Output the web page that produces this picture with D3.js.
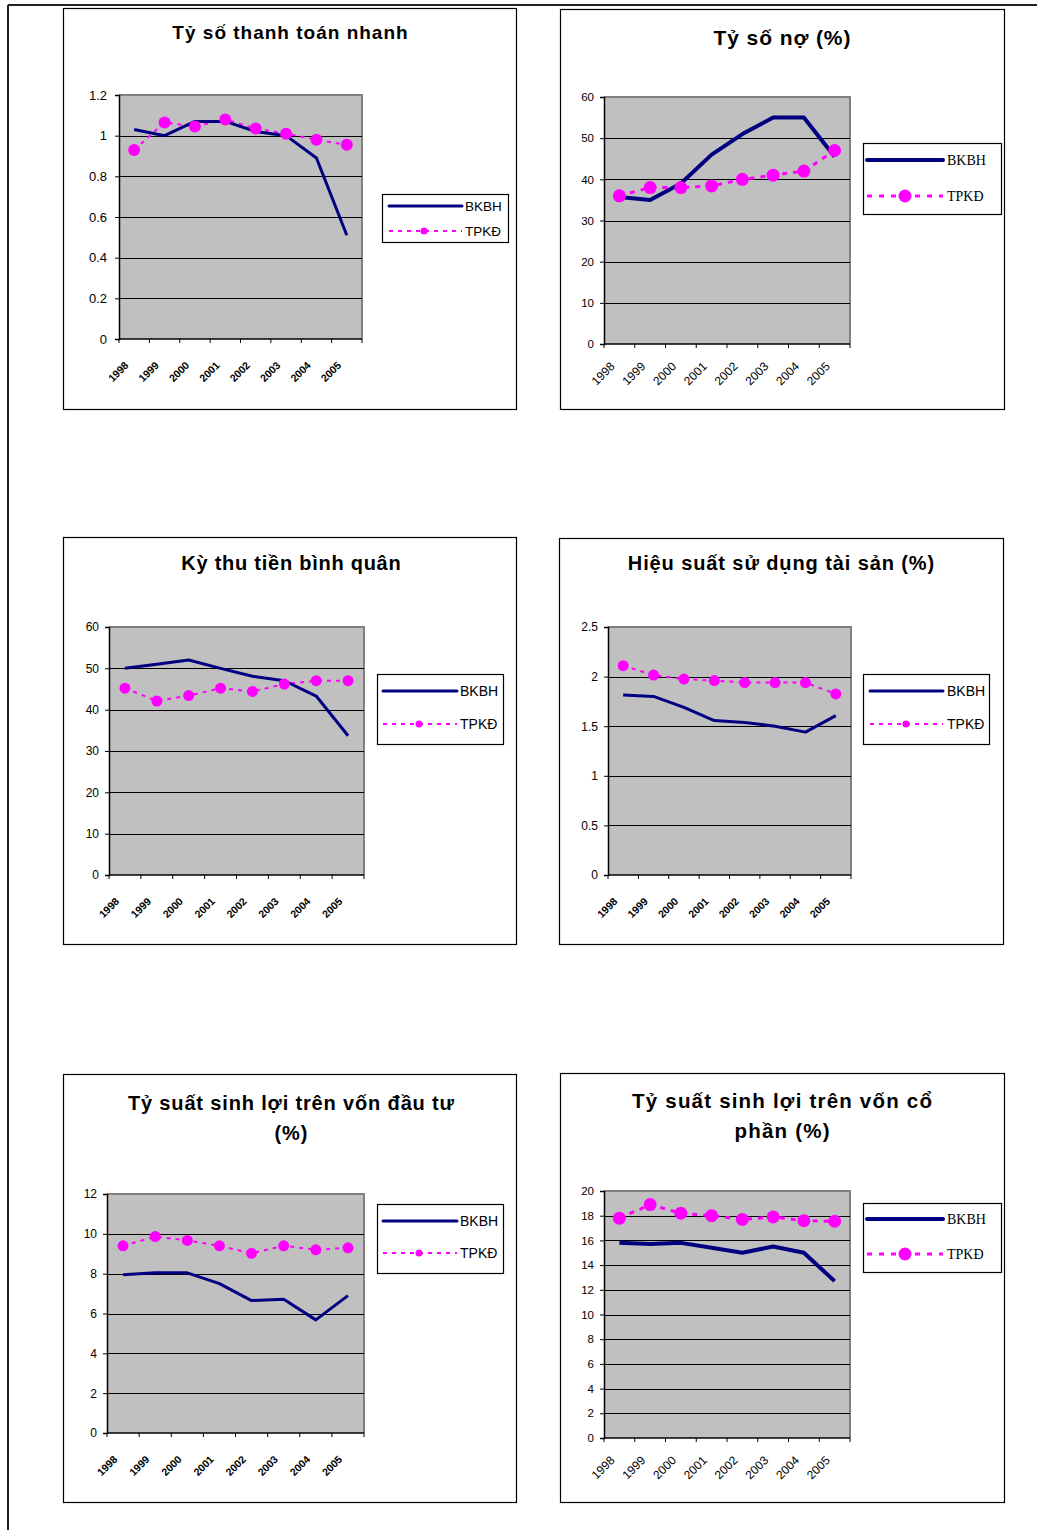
<!DOCTYPE html>
<html><head><meta charset="utf-8">
<script src="https://cdnjs.cloudflare.com/ajax/libs/d3/7.8.5/d3.min.js"></script>
<style>
html,body{margin:0;padding:0;background:#fff;}
svg{display:block;}
</style></head>
<body>
<svg id="page" width="1037" height="1530"></svg>
<script>
// ---- data ----
const years = ["1998","1999","2000","2001","2002","2003","2004","2005"];
const seriesNames = ["BKBH","TPKĐ"];

const quickBKBH = [1.03, 1.0, 1.07, 1.07, 1.02, 1.0, 0.89, 0.51];
const quickTPKD = [0.93, 1.065, 1.045, 1.08, 1.035, 1.01, 0.98, 0.955];
const quickTicks = [0, 0.2, 0.4, 0.6, 0.8, 1, 1.2];

const debtBKBH = [35.7, 35, 39, 46, 51, 55, 55, 45.5];
const debtTPKD = [36, 38, 38, 38.4, 40, 41, 42, 47];
const debtTicks = [0, 10, 20, 30, 40, 50, 60];

const collBKBH = [50, 51, 52, 50, 48.1, 47, 43.3, 33.7];
const collTPKD = [45.2, 42.1, 43.4, 45.2, 44.4, 46.2, 47, 47];
const collTicks = [0, 10, 20, 30, 40, 50, 60];

const assetBKBH = [1.815, 1.80, 1.69, 1.557, 1.537, 1.50, 1.44, 1.607];
const assetTPKD = [2.11, 2.015, 1.975, 1.96, 1.94, 1.94, 1.94, 1.825];
const assetTicks = [0, 0.5, 1, 1.5, 2, 2.5];

const roiBKBH = [7.94, 8.04, 8.04, 7.5, 6.65, 6.72, 5.68, 6.9];
const roiTPKD = [9.4, 9.86, 9.67, 9.4, 9.02, 9.4, 9.2, 9.3];
const roiTicks = [0, 2, 4, 6, 8, 10, 12];

const roeBKBH = [15.8, 15.7, 15.8, 15.4, 15.0, 15.5, 15.0, 12.7];
const roeTPKD = [17.8, 18.9, 18.2, 18.0, 17.7, 17.9, 17.6, 17.55];
const roeTicks = [0, 2, 4, 6, 8, 10, 12, 14, 16, 18, 20];

// ---- layout / style config ----
const charts = [
  {title:["Tỷ số thanh toán nhanh"], a:quickBKBH, b:quickTPKD, ticks:quickTicks,
   box:[63,8,516,409], plot:[119,95,362,339], tx:290, ty:[39], tfs:19, tls:1,
   yfs:13, ylab:107, serif:false, garbled:true,
   leg:[382,194,508,242], ly:[206,231], lx:[389,462], ltx:465, lfs:13.5, lmx:424, lmr:3.5, mr:6, lw:3},
  {title:["Tỷ số nợ (%)"], a:debtBKBH, b:debtTPKD, ticks:debtTicks,
   box:[560,9,1004,409], plot:[604,97,850,344], tx:782, ty:[45], tfs:21, tls:0.9,
   yfs:11.5, ylab:594, serif:true, garbled:false,
   leg:[863,143,1001,214], ly:[160,196], lx:[867,943], ltx:947, lfs:14, lmx:905, lmr:6.5, mr:6.5, lw:4},
  {title:["Kỳ thu tiền bình quân"], a:collBKBH, b:collTPKD, ticks:collTicks,
   box:[63,537,516,944], plot:[109,627,364,875], tx:291, ty:[570], tfs:20, tls:0.75,
   yfs:12, ylab:99, serif:false, garbled:true,
   leg:[377,674,503,744], ly:[691,724], lx:[383,457], ltx:460, lfs:14, lmx:419, lmr:3.5, mr:5.5, lw:3},
  {title:["Hiệu suất sử dụng tài sản (%)"], a:assetBKBH, b:assetTPKD, ticks:assetTicks,
   box:[559,538,1003,944], plot:[608,627,851,875], tx:781, ty:[570], tfs:20, tls:0.9,
   yfs:12, ylab:598, serif:false, garbled:true,
   leg:[863,674,989,744], ly:[691,724], lx:[870,943], ltx:947, lfs:14, lmx:906, lmr:3.5, mr:5.5, lw:3},
  {title:["Tỷ suất sinh lợi trên vốn đầu tư","(%)"], a:roiBKBH, b:roiTPKD, ticks:roiTicks,
   box:[63,1074,516,1502], plot:[107,1194,364,1433], tx:291, ty:[1110,1140], tfs:20, tls:0.85,
   yfs:12, ylab:97, serif:false, garbled:true,
   leg:[377,1204,503,1273], ly:[1221,1253], lx:[383,457], ltx:460, lfs:14, lmx:419, lmr:3.5, mr:5.5, lw:3},
  {title:["Tỷ suất sinh lợi trên vốn cổ","phần (%)"], a:roeBKBH, b:roeTPKD, ticks:roeTicks,
   box:[560,1073,1004,1502], plot:[604,1191,850,1438], tx:782, ty:[1108,1138], tfs:20.5, tls:1.2,
   yfs:11.5, ylab:594, serif:true, garbled:false,
   leg:[863,1203,1001,1272], ly:[1219,1254], lx:[867,943], ltx:947, lfs:14, lmx:905, lmr:6.5, mr:6.5, lw:4}
];

const NAVY = "#000080", MAG = "#FF00FF", PLOTBG = "#C0C0C0";
const SANS = "Liberation Sans, Arial, sans-serif";
const SERIF = "Liberation Serif, Times New Roman, serif";

const svg = d3.select("#page");

// page frame
svg.append("line").attr("x1",8).attr("x2",1037).attr("y1",5).attr("y2",5)
  .attr("stroke","#222").attr("stroke-width",2);
svg.append("line").attr("x1",8).attr("x2",8).attr("y1",5).attr("y2",1530)
  .attr("stroke","#222").attr("stroke-width",2);

charts.forEach(c => {
  const g = svg.append("g");
  const [bx0,by0,bx1,by1] = c.box;
  g.append("rect").attr("x",bx0+0.5).attr("y",by0+0.5).attr("width",bx1-bx0).attr("height",by1-by0)
    .attr("fill","#fff").attr("stroke","#000").attr("stroke-width",1.2);

  // title
  c.title.forEach((t,i) => {
    g.append("text").attr("x",c.tx + c.tls/2).attr("y",c.ty[i]).attr("text-anchor","middle")
      .attr("font-family",SANS).attr("font-weight","bold").attr("font-size",c.tfs)
      .attr("letter-spacing",c.tls)
      .attr("fill","#000").text(t);
  });

  const [pl,pt,pr,pb] = c.plot;
  const x = d3.scaleBand().domain(years).range([pl,pr]).padding(0);
  const y = d3.scaleLinear().domain([0, d3.max(c.ticks)]).range([pb,pt]);

  g.append("rect").attr("x",pl).attr("y",pt).attr("width",pr-pl).attr("height",pb-pt).attr("fill",PLOTBG);
  // plot border (gray top/right)
  g.append("path").attr("d",`M${pl},${pt}H${pr}V${pb}`).attr("fill","none")
    .attr("stroke","#808080").attr("stroke-width",2);

  // gridlines
  g.append("g").selectAll("line").data(c.ticks.filter(v=>v>0 && v<d3.max(c.ticks))).join("line")
    .attr("x1",pl).attr("x2",pr).attr("y1",d=>Math.round(y(d))+0.5).attr("y2",d=>Math.round(y(d))+0.5)
    .attr("stroke","#000").attr("stroke-width",1);

  // y axis
  const yAxis = d3.axisLeft(y).tickValues(c.ticks).tickSize(4).tickPadding(0)
    .tickFormat(d => String(d));
  const ya = g.append("g").attr("transform",`translate(${pl},0)`).call(yAxis);
  ya.select(".domain").attr("stroke","#000").attr("stroke-width",1.5);
  ya.selectAll(".tick line").attr("stroke","#000");
  ya.selectAll(".tick text").attr("x", c.ylab - pl).attr("font-family",SANS)
    .attr("font-size",c.yfs).attr("fill","#000");

  // x axis (tick marks at category boundaries)
  const bounds = years.map(d => x(d)).concat([pr]);
  g.append("line").attr("x1",pl).attr("x2",pr).attr("y1",pb).attr("y2",pb)
    .attr("stroke","#000").attr("stroke-width",1.5);
  g.append("g").selectAll("line").data(bounds).join("line")
    .attr("x1",d=>d).attr("x2",d=>d).attr("y1",pb).attr("y2",pb+4)
    .attr("stroke","#000").attr("stroke-width",1);
  g.append("g").selectAll("text").data(years).join("text")
    .attr("transform", d => c.garbled
        ? `translate(${x(d)+x.bandwidth()/2-5},${pb+27}) rotate(-45)`
        : `translate(${x(d)+x.bandwidth()/2-4},${pb+23}) rotate(-45)`)
    .attr("text-anchor","end")
    .attr("font-family",SANS)
    .attr("font-weight", c.garbled ? "bold" : "normal")
    .attr("font-size", c.garbled ? 10.5 : 12)
    .attr("fill","#000")
    .text(d => d);

  const cx = d => x(d) + x.bandwidth()/2;
  const line = d3.line().x((v,i)=>cx(years[i])).y(v=>y(v));

  // TPKĐ dashed with markers
  g.append("path").attr("d",line(c.b)).attr("fill","none").attr("stroke",MAG)
    .attr("stroke-width", c.serif ? 3 : 2).attr("stroke-dasharray", c.serif ? "5,6" : "4,5");
  // BKBH solid
  g.append("path").attr("d",line(c.a)).attr("fill","none").attr("stroke",NAVY)
    .attr("stroke-width",c.lw).attr("stroke-linejoin","round");
  g.append("g").selectAll("circle").data(c.b).join("circle")
    .attr("cx",(v,i)=>cx(years[i])).attr("cy",v=>y(v)).attr("r",c.mr).attr("fill",MAG);

  // legend
  const [lx0,ly0,lx1,ly1] = c.leg;
  g.append("rect").attr("x",lx0+0.5).attr("y",ly0+0.5).attr("width",lx1-lx0).attr("height",ly1-ly0)
    .attr("fill","#fff").attr("stroke","#000").attr("stroke-width",1.2);
  g.append("line").attr("x1",c.lx[0]).attr("x2",c.lx[1]).attr("y1",c.ly[0]).attr("y2",c.ly[0])
    .attr("stroke",NAVY).attr("stroke-width",c.lw).attr("stroke-linecap","round");
  g.append("line").attr("x1",c.lx[0]).attr("x2",c.lx[1]).attr("y1",c.ly[1]).attr("y2",c.ly[1])
    .attr("stroke",MAG).attr("stroke-width",c.serif ? 3 : 2).attr("stroke-dasharray", c.serif ? "5,7" : "4,5");
  g.append("circle").attr("cx",c.lmx).attr("cy",c.ly[1]).attr("r",c.lmr).attr("fill",MAG);
  seriesNames.forEach((n,i) => {
    g.append("text").attr("x",c.ltx).attr("y",c.ly[i]).attr("dy","0.36em")
      .attr("font-family", c.serif ? SERIF : SANS).attr("font-size",c.lfs).attr("fill","#000").text(n);
  });
});
</script>
</body></html>
